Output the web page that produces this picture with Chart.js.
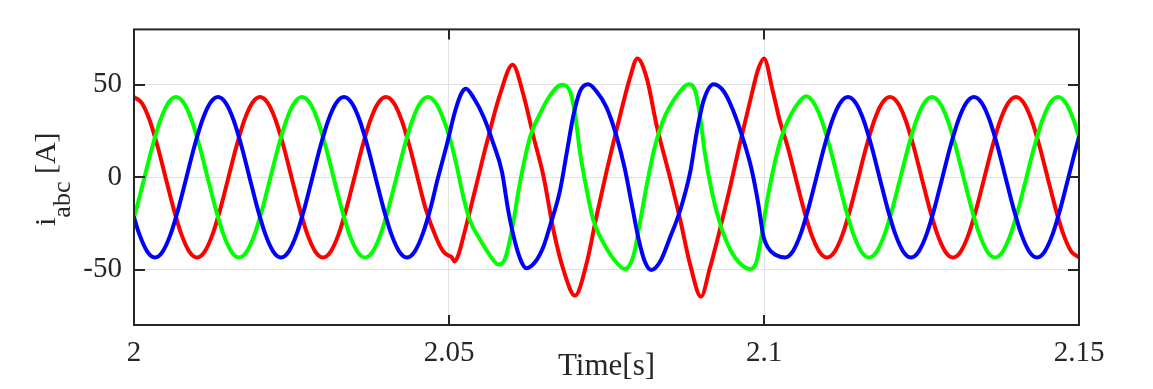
<!DOCTYPE html>
<html><head><meta charset="utf-8">
<script src="https://cdn.jsdelivr.net/npm/chart.js@4.4.1/dist/chart.umd.min.js"></script>
<style>html,body{margin:0;padding:0;background:#fff;}#wrap{width:1153px;height:389px;}</style>
</head><body><div id="wrap"><canvas id="c" width="1153" height="389"></canvas></div>
<script>
// ---- data ----
const xTicks = [2, 2.05, 2.1, 2.15];
const yTicks = [-50, 0, 50];

const redT = [2.00000, 2.00125, 2.00250, 2.00375, 2.00500, 2.00625, 2.00750, 2.00875, 2.01000, 2.01125, 2.01250, 2.01375, 2.01500, 2.01625, 2.01750, 2.01875,
  2.02000, 2.02125, 2.02250, 2.02375, 2.02500, 2.02625, 2.02750, 2.02875, 2.03000, 2.03125, 2.03250, 2.03375, 2.03500, 2.03625, 2.03750, 2.03875,
  2.04000, 2.04125, 2.04250, 2.04375, 2.04500, 2.04625,
  2.0480, 2.0491, 2.0500, 2.0504, 2.0509, 2.0515, 2.0523, 2.0541, 2.0560, 2.0581, 2.0601, 2.0618, 2.0634, 2.0650, 2.0666, 2.0682, 2.0700, 2.0719, 2.0734, 2.0750,
  2.0771, 2.0787, 2.0799, 2.0814, 2.0830, 2.0851, 2.0867, 2.0883, 2.0900, 2.0914, 2.0930, 2.0946, 2.0962, 2.0978, 2.0991, 2.1000, 2.1014,
  2.10250, 2.10375, 2.10500, 2.10625, 2.10750, 2.10875, 2.11000, 2.11125, 2.11250, 2.11375, 2.11500, 2.11625, 2.11750, 2.11875,
  2.12000, 2.12125, 2.12250, 2.12375, 2.12500, 2.12625, 2.12750, 2.12875, 2.13000, 2.13125, 2.13250, 2.13375, 2.13500, 2.13625, 2.13750, 2.13875,
  2.14000, 2.14125, 2.14250, 2.14375, 2.14500, 2.14625, 2.14750, 2.14875, 2.15000];
const redI = [43.4, 40.1, 30.7, 16.6, 0, -16.6, -30.7, -40.1, -43.4, -40.1, -30.7, -16.6, 0, 16.6, 30.7, 40.1,
  43.4, 40.1, 30.7, 16.6, 0, -16.6, -30.7, -40.1, -43.4, -40.1, -30.7, -16.6, 0, 16.6, 30.7, 40.1,
  43.4, 40.1, 30.7, 16.6, 0, -16.6,
  -33.0, -40.2, -42.5, -43.2, -45.6, -42.0, -32.0, -7.5, 18.6, 44.8, 60.8, 44.8, 22.1, 0.5, -29.0, -50.5, -64.1, -45.8, -21.4, 3.0,
  32.6, 53.5, 64.3, 53.5, 27.4, -0.5, -23.0, -47.6, -64.6, -49.3, -28.4, -5.7, 18.6, 41.3, 58.7, 64.3, 46.5,
  30.7, 16.6, 0, -16.6, -30.7, -40.1, -43.4, -40.1, -30.7, -16.6, 0, 16.6, 30.7, 40.1,
  43.4, 40.1, 30.7, 16.6, 0, -16.6, -30.7, -40.1, -43.4, -40.1, -30.7, -16.6, 0, 16.6, 30.7, 40.1,
  43.4, 40.1, 30.7, 16.6, 0, -16.6, -30.7, -40.1, -43.4];

const greenT = [2.00000, 2.00042, 2.00167, 2.00292, 2.00417, 2.00542, 2.00667, 2.00792, 2.00917, 2.01042, 2.01167, 2.01292, 2.01417, 2.01542,
  2.01667, 2.01792, 2.01917, 2.02042, 2.02167, 2.02292, 2.02417, 2.02542, 2.02667, 2.02792, 2.02917, 2.03042, 2.03167, 2.03292, 2.03417, 2.03542,
  2.03667, 2.03792, 2.03917, 2.04042, 2.04167, 2.04292, 2.04417, 2.04542, 2.04667, 2.04792,
  2.0490, 2.0502, 2.0512, 2.0523, 2.0533, 2.0549, 2.0565, 2.0578, 2.0589, 2.0600, 2.0613, 2.0629, 2.0644, 2.0660, 2.0679, 2.0692, 2.0700, 2.0708, 2.0719, 2.0729,
  2.0745, 2.0761, 2.0779, 2.0793, 2.0803, 2.0814, 2.0827, 2.0840, 2.0851, 2.0867, 2.0880, 2.0891, 2.0898, 2.0906, 2.0917, 2.0930, 2.0946, 2.0962, 2.0978, 2.0988,
  2.0996, 2.1004, 2.1015, 2.1028, 2.1041, 2.10542,
  2.10667, 2.10792, 2.10917, 2.11042, 2.11167, 2.11292, 2.11417, 2.11542, 2.11667, 2.11792, 2.11917, 2.12042, 2.12167, 2.12292, 2.12417, 2.12542,
  2.12667, 2.12792, 2.12917, 2.13042, 2.13167, 2.13292, 2.13417, 2.13542, 2.13667, 2.13792, 2.13917, 2.14042, 2.14167, 2.14292, 2.14417, 2.14542,
  2.14667, 2.14792, 2.14917, 2.15000];
const greenI = [-21.7, -16.6, 0, 16.6, 30.7, 40.1, 43.4, 40.1, 30.7, 16.6, 0, -16.6, -30.7, -40.1,
  -43.4, -40.1, -30.7, -16.6, 0, 16.6, 30.7, 40.1, 43.4, 40.1, 30.7, 16.6, 0, -16.6, -30.7, -40.1,
  -43.4, -40.1, -30.7, -16.6, 0, 16.6, 30.7, 40.1, 43.4, 40.1,
  32.5, 20.4, 6.4, -11.0, -23.2, -33.6, -42.3, -47.2, -44.1, -28.4, -2.3, 22.1, 34.0, 44.0, 50.0, 46.5, 34.3, 13.4, -7.5, -23.2,
  -35.4, -44.1, -49.7, -42.3, -24.9, -4.0, 16.9, 30.8, 38.5, 46.5, 50.3, 46.5, 34.3, 13.4, -7.5, -24.9, -38.9, -46.7, -49.7, -45.8,
  -31.9, -14.5, 4.7, 22.1, 32.6, 40.1,
  43.8, 40.1, 30.7, 16.6, 0, -16.6, -30.7, -40.1, -43.4, -40.1, -30.7, -16.6, 0, 16.6, 30.7, 40.1,
  43.4, 40.1, 30.7, 16.6, 0, -16.6, -30.7, -40.1, -43.4, -40.1, -30.7, -16.6, 0, 16.6, 30.7, 40.1,
  43.4, 40.1, 30.7, 21.7];

const blueT = [2.00000, 2.00083, 2.00208, 2.00333, 2.00458, 2.00583, 2.00708, 2.00833, 2.00958, 2.01083, 2.01208, 2.01333, 2.01458, 2.01583, 2.01708, 2.01833,
  2.01958, 2.02083, 2.02208, 2.02333, 2.02458, 2.02583, 2.02708, 2.02833, 2.02958, 2.03083, 2.03208, 2.03333, 2.03458, 2.03583, 2.03708, 2.03833,
  2.03958, 2.04083, 2.04208, 2.04333, 2.04458, 2.04583, 2.04708,
  2.0482, 2.0496, 2.0510, 2.0520, 2.0527, 2.0539, 2.0555, 2.0570, 2.0584, 2.0594, 2.0605, 2.0615, 2.0623, 2.0637, 2.0650, 2.0660, 2.0676, 2.0687, 2.0697, 2.0708,
  2.0721, 2.0734, 2.0750, 2.0766, 2.0779, 2.0790, 2.0801, 2.0811, 2.0821, 2.0835, 2.0851, 2.0867, 2.0883, 2.0893, 2.0904, 2.0920, 2.0936, 2.0951, 2.0967, 2.0980,
  2.0991, 2.0999, 2.1007, 2.1018,
  2.10333, 2.10458, 2.10583, 2.10708, 2.10833, 2.10958, 2.11083, 2.11208, 2.11333, 2.11458, 2.11583, 2.11708, 2.11833, 2.11958, 2.12083, 2.12208,
  2.12333, 2.12458, 2.12583, 2.12708, 2.12833, 2.12958, 2.13083, 2.13208, 2.13333, 2.13458, 2.13583, 2.13708, 2.13833, 2.13958, 2.14083, 2.14208,
  2.14333, 2.14458, 2.14583, 2.14708, 2.14833, 2.14958, 2.15000];
const blueI = [-21.7, -30.7, -40.1, -43.4, -40.1, -30.7, -16.6, 0, 16.6, 30.7, 40.1, 43.4, 40.1, 30.7, 16.6, 0,
  -16.6, -30.7, -40.1, -43.4, -40.1, -30.7, -16.6, 0, 16.6, 30.7, 40.1, 43.4, 40.1, 30.7, 16.6, 0,
  -16.6, -30.7, -40.1, -43.4, -40.1, -30.7, -16.6,
  -1.0, 16.9, 36.1, 45.6, 47.9, 43.0, 32.6, 18.6, 3.0, -17.9, -35.4, -45.8, -49.3, -45.8, -37.5, -26.7, -7.5, 13.4, 32.6, 46.5,
  50.3, 46.5, 37.8, 22.1, 4.7, -14.5, -33.6, -45.8, -50.2, -45.8, -32.5, -17.9, 3.0, 23.9, 41.3, 50.3, 46.5, 36.1, 20.4, 4.7,
  -14.5, -31.9, -38.5, -42.0,
  -43.4, -40.1, -30.7, -16.6, 0, 16.6, 30.7, 40.1, 43.4, 40.1, 30.7, 16.6, 0, -16.6, -30.7, -40.1,
  -43.4, -40.1, -30.7, -16.6, 0, 16.6, 30.7, 40.1, 43.4, 40.1, 30.7, 16.6, 0, -16.6, -30.7, -40.1,
  -43.4, -40.1, -30.7, -16.6, 0, 16.6, 21.7];

// ---- styling ----
const AXIS = '#262626';
const GRID = '#e1e1e1';
const SERIF = '"Liberation Serif", "Times New Roman", serif';

function pts(t, v) { return t.map((x, i) => ({ x: x, y: v[i] })); }

const framePlugin = {
  id: 'frame',
  afterDraw(chart) {
    const { ctx, chartArea: a, scales } = chart;
    const sx = scales.x, sy = scales.y;
    ctx.save();
    ctx.strokeStyle = AXIS;
    ctx.lineWidth = 2;
    ctx.strokeRect(a.left, a.top, a.right - a.left, a.bottom - a.top);
    ctx.beginPath();
    xTicks.forEach(v => {
      const px = Math.round(sx.getPixelForValue(v));
      ctx.moveTo(px, a.bottom); ctx.lineTo(px, a.bottom - 10);
      ctx.moveTo(px, a.top); ctx.lineTo(px, a.top + 10);
    });
    yTicks.forEach(v => {
      const py = Math.round(sy.getPixelForValue(v));
      ctx.moveTo(a.left, py); ctx.lineTo(a.left + 11, py);
      ctx.moveTo(a.right, py); ctx.lineTo(a.right - 11, py);
    });
    ctx.stroke();

    // y-axis title: i_abc [A]
    const main = '30px ' + SERIF, sub = '26px ' + SERIF;
    ctx.fillStyle = AXIS;
    ctx.textBaseline = 'alphabetic';
    ctx.textAlign = 'left';
    ctx.font = main; const w1 = ctx.measureText('i').width; const w3 = ctx.measureText(' [A]').width;
    ctx.font = sub; const w2 = ctx.measureText('abc').width;
    const total = w1 + w2 + w3;
    const cy = (a.top + a.bottom) / 2 + 2;
    ctx.translate(55, cy + total / 2);
    ctx.rotate(-Math.PI / 2);
    ctx.font = main; ctx.fillText('i', 0, 0);
    ctx.font = sub; ctx.fillText('abc', w1, 15);
    ctx.font = main; ctx.fillText(' [A]', w1 + w2, 0);
    ctx.restore();
  }
};

new Chart(document.getElementById('c'), {
  type: 'line',
  data: {
    datasets: [
      { label: 'ia', data: pts(redT, redI), borderColor: '#ff0000', order: 3 },
      { label: 'ib', data: pts(greenT, greenI), borderColor: '#00ff00', order: 2 },
      { label: 'ic', data: pts(blueT, blueI), borderColor: '#0000ff', order: 1 }
    ]
  },
  options: {
    responsive: false,
    animation: false,
    devicePixelRatio: 1,
    layout: { padding: { left: 0, right: 74, top: 20, bottom: 0 } },
    elements: {
      line: { borderWidth: 4, cubicInterpolationMode: 'monotone', fill: false, borderCapStyle: 'round', borderJoinStyle: 'round' },
      point: { radius: 0, hoverRadius: 0 }
    },
    plugins: { legend: { display: false }, tooltip: { enabled: false } },
    scales: {
      x: {
        type: 'linear', min: 2, max: 2.15,
        afterBuildTicks: s => { s.ticks = xTicks.map(v => ({ value: v })); },
        afterFit: s => { s.height = 64; },
        grid: { color: GRID, lineWidth: 1, drawTicks: false },
        border: { display: false },
        ticks: { padding: 11, color: AXIS, font: { family: SERIF, size: 29 }, maxRotation: 0, autoSkip: false, callback: v => String(v) },
        title: { display: true, text: 'Time[s]', color: AXIS, font: { family: SERIF, size: 31 }, padding: { top: 0, bottom: 4 } }
      },
      y: {
        type: 'linear', min: -80, max: 80,
        afterBuildTicks: s => { s.ticks = yTicks.map(v => ({ value: v })); },
        afterFit: s => { s.width = 134; },
        grid: { color: GRID, lineWidth: 1, drawTicks: false },
        border: { display: false },
        ticks: { padding: 12, color: AXIS, font: { family: SERIF, size: 29 }, callback: v => String(v) }
      }
    }
  },
  plugins: [framePlugin]
});
</script>
</body></html>
